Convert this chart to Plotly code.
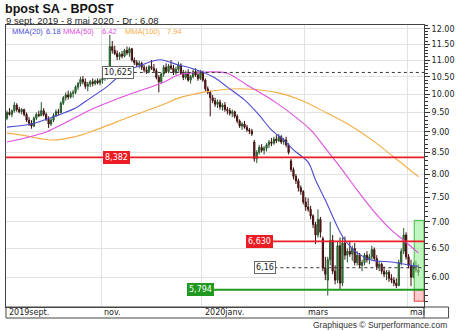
import math
import pandas as pd
import plotly.graph_objects as go

# ---------------- data ----------------
holidays = ["2019-12-25", "2019-12-26", "2020-01-01", "2020-04-10", "2020-04-13", "2020-05-01"]
dates = pd.bdate_range("2019-09-09", "2020-05-08")
dates = dates[~dates.isin(pd.to_datetime(holidays))]

open_ = [
    9.35, 9.50, 9.45, 9.55, 9.70, 9.58, 9.52, 9.58, 9.45, 9.30,
    9.22, 9.15, 9.35, 9.45, 9.42, 9.55, 9.45, 9.32, 9.20, 9.30,
    9.42, 9.52, 9.50, 9.75, 9.90, 9.98, 9.92, 10.02, 10.05, 10.20,
    10.30, 10.42, 10.35, 10.22, 10.28, 10.35, 10.30, 10.38, 10.32, 10.40,
    10.45, 10.50, 10.55, 11.42, 11.30, 11.20, 11.10, 11.18, 11.12, 11.30,
    11.22, 11.35, 11.00, 10.92, 10.85, 10.90, 10.78, 10.70, 10.65, 10.80,
    10.75, 10.68, 10.48, 10.35, 10.58, 10.78, 10.65, 10.82, 10.75, 10.62,
    10.72, 10.85, 10.60, 10.48, 10.62, 10.40, 10.50, 10.65, 10.55, 10.45,
    10.62, 10.40, 10.15, 10.05, 9.90, 9.82, 9.72, 9.78, 9.65, 9.70,
    9.58, 9.55, 9.48, 9.52, 9.40, 9.28, 9.15, 9.20, 9.12, 9.05,
    9.02, 8.75, 8.35, 8.50, 8.62, 8.55, 8.60, 8.68, 8.75, 8.72,
    8.82, 8.78, 8.88, 8.75, 8.80, 8.68, 8.30, 8.10, 7.95, 7.85,
    7.70, 7.62, 7.40, 7.30, 7.25, 7.12, 6.95, 6.75, 7.05, 6.68,
    6.15, 5.95, 6.30, 6.65, 6.10, 5.95, 6.55, 5.90, 6.60, 6.38,
    6.45, 6.40, 6.50, 6.25, 6.38, 6.20, 6.25, 6.38, 6.30, 6.35,
    6.48, 6.32, 6.18, 6.22, 6.10, 6.05, 6.08, 5.98, 5.95, 5.90,
    5.86, 6.25, 6.45, 6.75, 6.35, 6.20, 6.00, 6.20, 6.12]

high = [
    9.55, 9.62, 9.58, 9.78, 9.75, 9.65, 9.62, 9.60, 9.50, 9.38,
    9.30, 9.40, 9.50, 9.55, 9.78, 9.62, 9.50, 9.40, 9.35, 9.48,
    9.58, 9.60, 9.80, 9.95, 10.05, 10.10, 10.08, 10.12, 10.25, 10.35,
    10.50, 10.52, 10.45, 10.35, 10.40, 10.45, 10.42, 10.45, 10.45, 10.50,
    10.55, 10.58, 11.80, 11.60, 11.45, 11.30, 11.25, 11.28, 11.35, 11.42,
    11.40, 11.38, 11.08, 11.00, 10.98, 10.95, 10.85, 10.80, 10.85, 11.00,
    10.88, 10.75, 10.55, 10.62, 10.85, 10.90, 10.88, 11.00, 10.85, 10.80,
    10.95, 10.90, 10.70, 10.68, 10.72, 10.55, 10.72, 10.75, 10.68, 10.70,
    10.68, 10.45, 10.22, 10.10, 9.98, 9.90, 9.85, 9.85, 9.75, 9.78,
    9.65, 9.62, 9.58, 9.55, 9.45, 9.32, 9.25, 9.28, 9.18, 9.10,
    9.08, 8.80, 8.55, 8.68, 8.70, 8.65, 8.72, 8.80, 8.85, 8.88,
    8.92, 8.95, 8.92, 8.85, 8.88, 8.72, 8.35, 8.15, 8.00, 7.90,
    7.75, 7.65, 7.50, 7.48, 7.32, 7.15, 7.00, 7.25, 7.10, 6.72,
    6.35, 6.35, 7.00, 6.75, 6.20, 6.62, 6.70, 6.70, 6.72, 6.50,
    6.62, 6.55, 6.60, 6.45, 6.42, 6.30, 6.42, 6.45, 6.40, 6.55,
    6.52, 6.38, 6.28, 6.25, 6.18, 6.12, 6.12, 6.05, 6.00, 5.98,
    6.30, 6.50, 6.88, 6.80, 6.40, 6.30, 6.25, 6.28, 6.22]

low = [
    9.30, 9.42, 9.38, 9.50, 9.52, 9.48, 9.45, 9.40, 9.25, 9.15,
    9.08, 9.12, 9.30, 9.38, 9.40, 9.40, 9.28, 9.10, 9.15, 9.25,
    9.38, 9.42, 9.48, 9.70, 9.82, 9.85, 9.88, 9.90, 10.00, 10.12,
    10.22, 10.28, 10.15, 10.08, 10.20, 10.22, 10.25, 10.28, 10.25, 10.30,
    10.38, 10.42, 10.55, 11.20, 11.15, 11.00, 11.00, 11.05, 11.08, 11.15,
    11.10, 10.95, 10.85, 10.78, 10.75, 10.70, 10.62, 10.58, 10.60, 10.70,
    10.62, 10.42, 10.05, 10.30, 10.50, 10.60, 10.60, 10.70, 10.55, 10.55,
    10.65, 10.55, 10.40, 10.42, 10.35, 10.30, 10.45, 10.50, 10.38, 10.40,
    10.35, 10.08, 10.00, 9.40, 9.75, 9.65, 9.62, 9.58, 9.55, 9.52,
    9.45, 9.42, 9.38, 9.35, 9.22, 9.10, 9.05, 9.08, 9.00, 8.95,
    8.90, 8.28, 8.25, 8.45, 8.50, 8.45, 8.52, 8.60, 8.65, 8.68,
    8.72, 8.75, 8.70, 8.68, 8.62, 8.45, 8.05, 7.88, 7.78, 7.62,
    7.55, 7.35, 7.22, 7.20, 7.05, 6.88, 6.58, 6.70, 6.70, 6.10,
    5.95, 5.70, 6.20, 6.05, 5.88, 5.90, 5.80, 5.85, 6.30, 6.25,
    6.35, 6.28, 6.20, 6.20, 6.15, 6.10, 6.20, 6.25, 6.22, 6.30,
    6.28, 6.12, 6.10, 6.05, 6.00, 5.95, 5.92, 5.90, 5.85, 5.82,
    5.85, 6.20, 6.40, 6.30, 6.15, 5.85, 5.98, 6.08, 6.02]

close = [
    9.50, 9.45, 9.55, 9.70, 9.58, 9.52, 9.58, 9.45, 9.30, 9.22,
    9.15, 9.35, 9.45, 9.42, 9.55, 9.45, 9.32, 9.20, 9.30, 9.42,
    9.52, 9.50, 9.75, 9.90, 9.98, 9.92, 10.02, 10.05, 10.20, 10.30,
    10.42, 10.35, 10.22, 10.28, 10.35, 10.30, 10.38, 10.32, 10.40, 10.45,
    10.50, 10.55, 11.42, 11.30, 11.20, 11.10, 11.18, 11.12, 11.30, 11.22,
    11.35, 11.00, 10.92, 10.85, 10.90, 10.78, 10.70, 10.65, 10.80, 10.75,
    10.68, 10.48, 10.35, 10.58, 10.78, 10.65, 10.82, 10.75, 10.62, 10.72,
    10.85, 10.60, 10.48, 10.62, 10.40, 10.50, 10.65, 10.55, 10.45, 10.62,
    10.40, 10.15, 10.05, 9.90, 9.82, 9.72, 9.78, 9.65, 9.70, 9.58,
    9.55, 9.48, 9.52, 9.40, 9.28, 9.15, 9.20, 9.12, 9.05, 9.02,
    8.95, 8.35, 8.50, 8.62, 8.55, 8.60, 8.68, 8.75, 8.72, 8.82,
    8.78, 8.88, 8.75, 8.80, 8.68, 8.50, 8.10, 7.95, 7.85, 7.70,
    7.62, 7.40, 7.30, 7.25, 7.12, 6.95, 6.75, 7.05, 6.80, 6.15,
    6.05, 6.30, 6.65, 6.10, 5.95, 6.55, 5.90, 6.60, 6.38, 6.45,
    6.40, 6.50, 6.25, 6.38, 6.20, 6.25, 6.38, 6.30, 6.35, 6.48,
    6.32, 6.18, 6.22, 6.10, 6.05, 6.08, 5.98, 5.95, 5.90, 5.86,
    6.25, 6.45, 6.75, 6.35, 6.20, 6.00, 6.20, 6.12, 6.08]

# moving averages (trading-day index, value)
ma20_idx = [0, 10, 20, 28, 34, 40, 45, 50, 55, 60, 63, 66, 70, 75, 80, 85, 90, 97,
            103, 108, 113, 117, 123, 126, 130, 135, 138, 143, 149, 157, 165, 168]
ma20_val = [9.12, 9.20, 9.41, 9.62, 9.89, 10.17, 10.46, 10.70, 10.85, 10.98, 11.01, 10.95,
            10.85, 10.76, 10.63, 10.46, 10.20, 9.84, 9.43, 9.05, 8.80, 8.56, 8.27, 7.87,
            7.44, 6.90, 6.65, 6.42, 6.29, 6.26, 6.20, 6.18]
ma50_idx = [0, 16, 34, 47, 64, 70, 82, 90, 98, 110, 124, 130, 137, 143, 150, 157, 162, 168]
ma50_val = [8.75, 9.00, 9.57, 9.92, 10.34, 10.55, 10.64, 10.60, 10.26, 9.76, 9.05, 8.60,
            8.09, 7.65, 7.20, 6.84, 6.65, 6.42]
ma100_idx = [0, 6, 18, 27, 34, 50, 64, 70, 80, 90, 100, 110, 120, 130, 140, 150, 158, 168]
ma100_val = [8.97, 8.92, 8.80, 8.87, 9.00, 9.38, 9.72, 9.89, 10.05, 10.14, 10.14, 10.05,
             9.84, 9.51, 9.17, 8.76, 8.39, 7.94]

ma_labels = ["MMA(20)", "MMA(50)", "MMA(100)"]
ma_last = ["6.18", "6.42", "7.94"]

month_keys = ["2019-09", "2019-11", "2020-01", "2020-03", "2020-05"]
month_labels = ["2019sept.", "nov.", "2020janv.", "mars", "mai"]

ytick_vals = [6.0, 6.5, 7.0, 7.5, 8.0, 8.5, 9.0, 9.5, 10.0, 10.5, 11.0, 11.5, 12.0]

support_resist = [  # value, label, kind
    (8.382, "8,382", "red"),
    (6.630, "6,630", "red"),
    (5.794, "5,794", "green"),
]
ref_levels = [(10.625, "10,625"), (6.16, "6,16")]
target_high, target_mid, target_low = 7.03, 5.794, 5.61

# ---------------- layout helpers (pixel geometry) ----------------
W, H = 460, 331
L, R, T, B = 5, 430, 25, 307
def px(p):
    return (p - L) / (R - L)
def py(p):
    return (B - p) / (B - T)

n = len(close)
idx = list(range(n))
XMIN, XMAX = -0.4, 170.3
RED = "#ec1c24"
GREEN = "#1f9a1f"
C20, C50, C100 = "#4b4bd2", "#e04ee0", "#f5ae45"

fig = go.Figure()

# target boxes on the right
fig.add_trace(go.Scatter(x=[166.3, XMAX, XMAX, 166.3, 166.3],
                         y=[target_mid, target_mid, target_high, target_high, target_mid],
                         fill="toself", fillcolor="rgba(150,238,150,0.6)",
                         line=dict(color="#3cbf3c", width=1), mode="lines",
                         hoverinfo="skip", showlegend=False))
fig.add_trace(go.Scatter(x=[166.3, XMAX, XMAX, 166.3, 166.3],
                         y=[target_low, target_low, target_mid, target_mid, target_low],
                         fill="toself", fillcolor="rgba(248,190,190,0.8)",
                         line=dict(color="#e04040", width=1), mode="lines",
                         hoverinfo="skip", showlegend=False))

# moving averages
for xi, yv, col in [(ma100_idx, ma100_val, C100), (ma50_idx, ma50_val, C50), (ma20_idx, ma20_val, C20)]:
    fig.add_trace(go.Scatter(x=xi, y=yv, mode="lines",
                             line=dict(color=col, width=1.1, shape="spline", smoothing=0.8),
                             hoverinfo="skip", showlegend=False))

# levels
level_start = {"8,382": XMIN, "6,630": 98.8, "5,794": 74.0}
box_center = {"8,382": 44.6, "6,630": 103.3, "5,794": 79.2}
for val, lab, kind in support_resist:
    col = RED if kind == "red" else GREEN
    fig.add_trace(go.Scatter(x=[level_start[lab], XMAX], y=[val, val], mode="lines",
                             line=dict(color=col, width=1.6 if kind == "red" else 2),
                             hoverinfo="skip", showlegend=False))
ref_start = {"10,625": 51.8, "6,16": 109.2}
ref_center = {"10,625": 45.4, "6,16": 105.2}
for val, lab in ref_levels:
    fig.add_trace(go.Scatter(x=[ref_start[lab], XMAX], y=[val, val], mode="lines",
                             line=dict(color="#333333", width=1, dash="dot"),
                             hoverinfo="skip", showlegend=False))

# candles
fig.add_trace(go.Candlestick(
    x=idx, open=open_, high=high, low=low, close=close,
    text=[d.strftime("%d/%m/%Y") for d in dates],
    whiskerwidth=0,
    increasing=dict(fillcolor="#3a9e3a", line=dict(color="#24562a", width=1)),
    decreasing=dict(fillcolor="#8a1b1b", line=dict(color="#3e1010", width=1)),
    showlegend=False))

ann = []
for val, lab, kind in support_resist:
    col = RED if kind == "red" else GREEN
    ann.append(dict(x=box_center[lab], y=math.log10(val), xref="x", yref="y", text=lab,
                    showarrow=False, bgcolor=col, borderpad=1, bordercolor=col,
                    font=dict(family="DejaVu Sans", size=8, color="white")))
for val, lab in ref_levels:
    ann.append(dict(x=ref_center[lab], y=math.log10(val), xref="x", yref="y", text=lab,
                    showarrow=False, bgcolor="white", borderpad=1, bordercolor="#666",
                    borderwidth=1, font=dict(family="DejaVu Sans", size=8, color="#222")))

# titles
ann.append(dict(x=px(2), y=py(9.5), xref="paper", yref="paper", xanchor="left", yanchor="middle",
                text="<b>bpost SA - BPOST</b>", showarrow=False,
                font=dict(family="Liberation Sans", size=12.5, color="#111")))
ann.append(dict(x=px(3), y=py(20.5), xref="paper", yref="paper", xanchor="left", yanchor="middle",
                text="9 sept. 2019 - 8 mai 2020 - Dr : 6,08", showarrow=False,
                font=dict(family="Liberation Sans", size=9.5, color="#222")))
# MA legend
leg_x = [(9, 44), (61, 101), (124, 167)]
for (lx, vx), lab, val, col in zip(leg_x, ma_labels, ma_last, [C20, C50, C100]):
    ann.append(dict(x=px(lx), y=py(31), xref="paper", yref="paper", xanchor="left", yanchor="middle",
                    text=lab, showarrow=False, font=dict(family="Liberation Sans", size=7.5, color=col)))
    ann.append(dict(x=px(vx), y=py(31), xref="paper", yref="paper", xanchor="left", yanchor="middle",
                    text=val, showarrow=False, font=dict(family="Liberation Sans", size=7.5, color=col)))
# month labels
ym = list(dates.strftime("%Y-%m"))
grid_x = []
for key, lab in zip(month_keys, month_labels):
    i0 = ym.index(key)
    gx = i0 - 0.5
    if i0 > 0:
        grid_x.append(gx)
    ann.append(dict(x=max(gx, XMIN), y=py(312.5), xref="x", yref="paper", xanchor="left",
                    yanchor="middle", xshift=1, text=lab, showarrow=False,
                    font=dict(family="DejaVu Sans", size=8, color="#222")))
ann.append(dict(x=px(455), y=py(325), xref="paper", yref="paper", xanchor="right", yanchor="middle",
                text="Graphiques © Surperformance.com", showarrow=False,
                font=dict(family="Liberation Sans", size=8.5, color="#333")))

minor_vals = [round(5.6 + 0.1 * k, 1) for k in range(67)]
minor_vals = [v for v in minor_vals if abs(v * 2 - round(v * 2)) > 1e-6]

shapes = [
    dict(type="rect", xref="paper", yref="paper", x0=px(5), x1=px(455), y0=py(307), y1=py(318),
         line=dict(color="#444", width=1)),
    dict(type="line", xref="paper", yref="paper", x0=1, x1=1, y0=py(307), y1=py(318),
         line=dict(color="#444", width=1)),
]

fig.update_layout(
    width=W, height=H,
    margin=dict(l=L, r=W - R, t=T, b=H - B),
    paper_bgcolor="white", plot_bgcolor="white",
    showlegend=False,
    annotations=ann, shapes=shapes,
    xaxis=dict(range=[XMIN, XMAX], tickvals=grid_x, showticklabels=False, ticks="",
               showgrid=True, gridcolor="#e2e2e2", gridwidth=1, zeroline=False,
               showline=True, mirror=True, linecolor="#444", linewidth=1,
               rangeslider=dict(visible=False)),
    yaxis=dict(type="log", range=[math.log10(5.52), math.log10(12.13)], side="right",
               tickvals=ytick_vals, ticktext=[f"{v:.2f}" for v in ytick_vals],
               ticks="outside", ticklen=5, tickcolor="#333",
               tickfont=dict(family="DejaVu Sans", size=8, color="#222"),
               showgrid=True, gridcolor="#e2e2e2", zeroline=False,
               showline=True, mirror=True, linecolor="#444", linewidth=1,
               minor=dict(tickvals=minor_vals, ticks="outside", ticklen=3, tickcolor="#333",
                          showgrid=False)),
)

fig.write_html("out.html")
